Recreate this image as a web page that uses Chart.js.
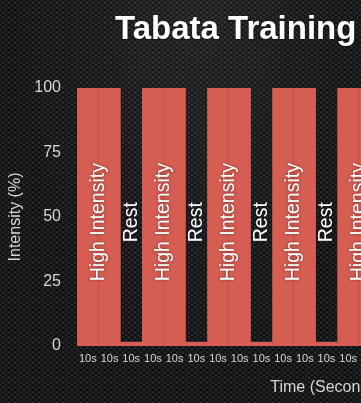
<!DOCTYPE html>
<html>
<head>
<meta charset="utf-8">
<title>Tabata Training</title>
<script src="https://cdn.jsdelivr.net/npm/chart.js@4.4.1/dist/chart.umd.min.js"></script>
<style>
html, body { margin: 0; padding: 0; width: 361px; height: 403px; overflow: hidden; }
body {
    background-color: #0b0c0d;
    background-image:
        radial-gradient(ellipse at 55% 0%, rgba(255,255,255,0.06), rgba(255,255,255,0) 65%),
        radial-gradient(circle, #25262a 1.3px, rgba(0,0,0,0) 1.9px),
        radial-gradient(circle, #25262a 1.3px, rgba(0,0,0,0) 1.9px);
    background-size: 100% 100%, 6px 5px, 6px 5px;
    background-position: 0 0, 0 0, 3px 2.5px;
}
#wrap { position: absolute; left: 0; top: 0; width: 580px; height: 403px; }
#title {
    position: absolute; left: 115px; top: 11px;
    font: bold 33px "Liberation Sans", Arial, sans-serif; line-height: 1;
    color: #ffffff; white-space: nowrap;
    text-shadow: 0 1px 2px rgba(0,0,0,0.6);
}
</style>
</head>
<body>
<div id="wrap"><canvas id="tabata_chart"></canvas></div>
<div id="title">Tabata Training</div>
<script>
// ----------------------------- data ---------------------- >>
const slots = ['10s', '10s', '10s', '10s', '10s', '10s', '10s', '10s', '10s', '10s', '10s', '10s',
               '10s', '10s', '10s', '10s', '10s', '10s', '10s', '10s', '10s', '10s', '10s'];
const intensity = [100, 100, 1.5, 100, 100, 1.5, 100, 100, 1.5, 100, 100, 1.5,
                   100, 100, 1.5, 100, 100, 1.5, 100, 100, 1.5, 100, 100];
const phases = ['High Intensity', 'High Intensity', 'Rest', 'High Intensity', 'High Intensity', 'Rest',
                'High Intensity', 'High Intensity', 'Rest', 'High Intensity', 'High Intensity', 'Rest',
                'High Intensity', 'High Intensity', 'Rest', 'High Intensity', 'High Intensity', 'Rest',
                'High Intensity', 'High Intensity', 'Rest', 'High Intensity', 'High Intensity'];
const yTicks = [0, 25, 50, 75, 100];

const barRed = '#d65d52';
const seamRed = '#a8433b';
const textGrey = '#d6d6d6';

// ----------------------------- phase labels ---------------------- >>
// writes "High Intensity" / "Rest" up the middle of each run of slots
const phaseLabels = {
    id: 'phaseLabels',
    afterDatasetsDraw(chart) {
        const ctx = chart.ctx;
        const x = chart.scales.x, y = chart.scales.y;
        ctx.save();
        ctx.font = '19.5px "Liberation Sans", Arial, sans-serif';
        ctx.fillStyle = '#ffffff';
        ctx.textAlign = 'center';
        ctx.textBaseline = 'middle';
        ctx.shadowColor = 'rgba(0,0,0,0.45)';
        ctx.shadowBlur = 3;
        let start = 0;
        for (let i = 1; i <= phases.length; i++) {
            if (i === phases.length || phases[i] !== phases[start]) {
                const cx = (x.getPixelForValue(start) + x.getPixelForValue(i - 1)) / 2;
                const cy = y.getPixelForValue(48);
                ctx.save();
                ctx.translate(cx, cy);
                ctx.rotate(-Math.PI / 2);
                ctx.fillText(phases[start], 0, 0);
                ctx.restore();
                start = i;
            }
        }
        ctx.restore();
    }
};

// ----------------------------- graph ---------------------- >>
const ctx = document.getElementById('tabata_chart').getContext('2d');
const tabataChart = new Chart(ctx, {
    type: 'bar',
    data: {
        labels: slots,
        datasets: [{
            label: 'Intensity',
            data: intensity,
            backgroundColor: barRed,
            borderColor: seamRed,
            // thin seam between the two halves of a work interval
            borderWidth: (c) => phases[c.dataIndex] === phases[c.dataIndex + 1]
                ? { top: 0, right: 1, bottom: 0, left: 0 } : 0,
            barPercentage: 1,
            categoryPercentage: 1
        }]
    },
    options: {
        responsive: true,
        maintainAspectRatio: false,
        animation: false,
        layout: { padding: { top: 88, right: 2, left: 0, bottom: 0 } },
        plugins: {
            legend: { display: false },
            tooltip: { enabled: false }
        },
        scales: {
            x: {
                grid: { display: false, drawTicks: false },
                border: { display: false },
                ticks: {
                    color: textGrey,
                    font: { family: '"Liberation Sans", Arial, sans-serif', size: 11 },
                    padding: 6,
                    maxRotation: 0,
                    autoSkip: false
                },
                title: {
                    display: true,
                    text: 'Time (Seconds)',
                    color: textGrey,
                    font: { family: '"Liberation Sans", Arial, sans-serif', size: 16 },
                    padding: { top: 0, bottom: 6 }
                },
                afterFit: (s) => { s.height = 57; }
            },
            y: {
                min: 0,
                max: 100,
                grid: { display: false, drawTicks: false },
                border: { display: false },
                afterBuildTicks: (s) => { s.ticks = yTicks.map(v => ({ value: v })); },
                ticks: {
                    color: textGrey,
                    font: { family: '"Liberation Sans", Arial, sans-serif', size: 16 },
                    padding: 16
                },
                title: {
                    display: true,
                    text: 'Intensity (%)',
                    color: textGrey,
                    font: { family: '"Liberation Sans", Arial, sans-serif', size: 16 },
                    padding: { top: 6, bottom: 0 }
                },
                afterFit: (s) => { s.width = 77; }
            }
        }
    },
    plugins: [phaseLabels]
});
</script>
</body>
</html>
